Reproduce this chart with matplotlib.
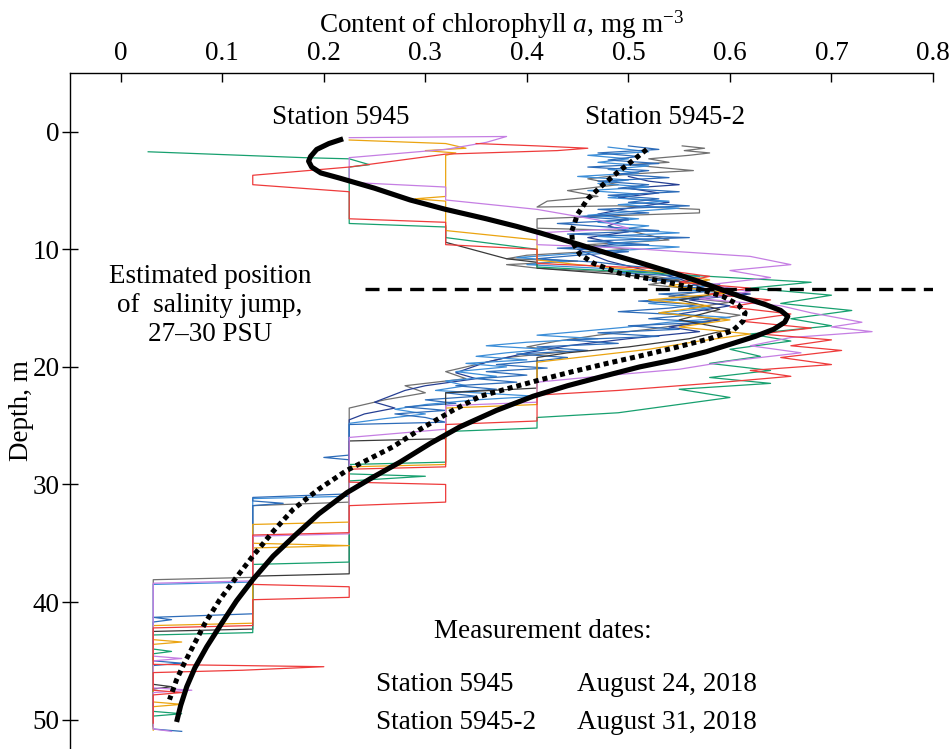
import matplotlib
matplotlib.use("Agg")
import matplotlib.pyplot as plt

plt.rcParams['font.family'] = ['Liberation Serif', 'DejaVu Serif']
plt.rcParams['mathtext.fontset'] = 'custom'
plt.rcParams['mathtext.rm'] = 'Liberation Serif'
plt.rcParams['mathtext.it'] = 'Liberation Serif:italic'

# ---------------- data (chlorophyll a, mg m^-3  vs depth, m) ----------------
x_ticks = [0, 0.1, 0.2, 0.3, 0.4, 0.5, 0.6, 0.7, 0.8]
x_tick_labels = ["0", "0.1", "0.2", "0.3", "0.4", "0.5", "0.6", "0.7", "0.8"]
depth_ticks = [0, 10, 20, 30, 40, 50]

# smoothed profile, Station 5945 (solid)
fit_5945_x = [0.219, 0.205, 0.193, 0.187, 0.185, 0.188, 0.197, 0.216, 0.25, 0.285, 0.32, 0.36, 0.39,
              0.413, 0.45, 0.48, 0.51, 0.544, 0.575, 0.61, 0.635, 0.65, 0.657, 0.654, 0.643, 0.625,
              0.603, 0.577, 0.545, 0.511, 0.475, 0.44, 0.406, 0.37, 0.334, 0.305, 0.275, 0.248,
              0.2227, 0.195, 0.172, 0.15, 0.130, 0.114, 0.098, 0.0847, 0.073, 0.065, 0.059, 0.055]
fit_5945_d = [0.6, 1.0, 1.5, 2.1, 2.5, 3.0, 3.5, 3.95, 4.8, 5.8, 6.6, 7.4, 8.05,
              8.6, 9.55, 10.35, 11.1, 12.0, 12.9, 14.0, 14.7, 15.2, 15.7, 16.2, 16.8, 17.4,
              18.0, 18.7, 19.4, 20.0, 20.8, 21.6, 22.5, 23.7, 25.1, 26.5, 28.1, 29.4,
              30.7, 32.5, 34.3, 36.1, 38.1, 39.9, 42.0, 43.8, 45.6, 47.2, 48.8, 50.2]

# smoothed profile, Station 5945-2 (dotted)
fit_59452_x = [0.518, 0.505, 0.49, 0.475, 0.46, 0.45, 0.444, 0.445, 0.452, 0.466, 0.49, 0.52, 0.544,
               0.57, 0.593, 0.608, 0.615, 0.613, 0.603, 0.58, 0.544, 0.51, 0.479, 0.445, 0.413, 0.383,
               0.354, 0.327, 0.295, 0.268, 0.2227, 0.195, 0.17, 0.15, 0.130, 0.113, 0.0975, 0.083,
               0.071, 0.062, 0.055, 0.048]
fit_59452_d = [1.5, 2.4, 3.4, 4.5, 5.7, 7.0, 8.5, 9.4, 10.4, 11.2, 12.0, 12.5, 12.9,
               13.4, 14.0, 14.7, 15.4, 16.1, 16.9, 17.6, 18.4, 19.1, 19.7, 20.4, 21.1, 21.8,
               22.5, 23.7, 25.3, 26.8, 28.8, 30.4, 32.1, 34.0, 36.1, 38.0, 39.8, 41.8,
               43.8, 45.3, 46.6, 48.3]

salinity_jump_depth = 13.4
salinity_jump_x = [0.241, 0.80]

# raw profiles, Station 5945  (value, depth)
red_5945 = [(0.35, 1.0), (0.41, 1.2), (0.46, 1.4), (0.43, 1.6), (0.32, 1.9), (0.225, 3.0), (0.13, 3.7),
            (0.13, 4.5), (0.225, 5.1), (0.225, 7.4), (0.32, 7.7), (0.32, 9.6), (0.41, 10.0), (0.41, 11.2),
            (0.52, 11.6), (0.58, 12.3), (0.55, 12.8), (0.62, 13.3), (0.58, 13.8), (0.64, 14.3), (0.60, 14.9),
            (0.66, 15.5), (0.61, 16.1), (0.68, 16.7), (0.63, 17.2), (0.70, 17.7), (0.66, 18.2), (0.71, 18.6),
            (0.65, 19.2), (0.70, 19.8), (0.62, 20.3), (0.66, 20.8), (0.58, 21.4), (0.49, 22.0), (0.41, 22.4),
            (0.41, 24.6), (0.32, 24.9), (0.32, 28.5), (0.225, 28.7), (0.225, 29.8), (0.32, 30.0), (0.32, 31.5),
            (0.225, 31.8), (0.225, 34.1), (0.13, 34.3), (0.13, 38.5), (0.225, 38.7), (0.225, 39.6), (0.13, 39.8),
            (0.13, 42.0), (0.032, 42.2), (0.032, 45.3), (0.20, 45.5), (0.12, 45.8), (0.032, 46.0), (0.032, 47.5),
            (0.06, 47.7), (0.032, 47.9), (0.032, 50.3)]
violet_5945 = [(0.225, 0.5), (0.38, 0.4), (0.36, 0.9), (0.32, 1.5), (0.225, 2.2), (0.225, 4.3), (0.32, 4.7),
               (0.32, 5.8), (0.41, 6.6), (0.47, 7.5), (0.50, 8.2), (0.41, 8.6), (0.41, 9.6), (0.50, 9.9),
               (0.55, 10.2), (0.62, 10.6), (0.66, 11.3), (0.60, 11.8), (0.64, 12.4), (0.58, 13.0), (0.62, 13.6),
               (0.57, 14.2), (0.65, 14.8), (0.68, 15.4), (0.73, 16.2), (0.70, 16.6), (0.74, 17.0), (0.66, 17.5),
               (0.62, 18.2), (0.67, 18.8), (0.60, 19.5), (0.55, 20.2), (0.47, 20.8), (0.41, 21.3), (0.41, 23.0),
               (0.32, 23.3), (0.32, 25.3), (0.225, 26.0), (0.225, 34.2), (0.13, 34.4), (0.13, 38.2), (0.032, 38.4),
               (0.032, 44.6), (0.06, 44.8), (0.032, 45.0), (0.032, 47.3), (0.07, 47.5), (0.032, 47.7),
               (0.032, 50.8), (0.05, 51.0)]
orange_5945 = [(0.225, 0.7), (0.32, 1.0), (0.34, 1.4), (0.30, 1.6), (0.33, 1.8), (0.32, 2.0), (0.32, 5.5),
               (0.29, 5.7), (0.32, 5.9), (0.32, 8.4), (0.41, 9.2), (0.41, 10.9), (0.45, 11.3), (0.53, 11.9),
               (0.58, 12.6), (0.54, 13.1), (0.60, 13.7), (0.52, 14.3), (0.58, 14.8), (0.53, 15.4), (0.60, 16.0),
               (0.55, 16.6), (0.62, 17.2), (0.57, 17.8), (0.52, 18.5), (0.44, 19.3), (0.41, 19.6), (0.41, 23.2),
               (0.32, 23.5), (0.32, 28.3), (0.225, 28.5), (0.225, 33.2), (0.13, 33.4), (0.13, 35.0), (0.225, 35.2),
               (0.13, 35.4), (0.13, 41.8), (0.032, 42.0), (0.032, 43.2), (0.06, 43.4), (0.032, 43.6),
               (0.032, 48.5), (0.06, 48.7), (0.032, 48.9), (0.032, 50.9)]
green_5945 = [(0.027, 1.7), (0.18, 2.2), (0.225, 2.3), (0.245, 2.8), (0.225, 3.0), (0.225, 7.8), (0.32, 8.1),
              (0.32, 9.0), (0.41, 10.0), (0.41, 11.5), (0.50, 11.9), (0.58, 12.3), (0.68, 12.8), (0.62, 13.3),
              (0.70, 13.9), (0.65, 14.6), (0.72, 15.2), (0.66, 15.9), (0.70, 16.5), (0.62, 17.2), (0.66, 17.8),
              (0.60, 18.5), (0.63, 19.1), (0.58, 19.7), (0.64, 20.3), (0.58, 20.9), (0.64, 21.4), (0.55, 21.9),
              (0.60, 22.6), (0.49, 23.9), (0.41, 24.3), (0.41, 25.2), (0.32, 25.5), (0.32, 28.1), (0.225, 28.3),
              (0.225, 29.1), (0.30, 29.3), (0.225, 29.7), (0.225, 36.6), (0.13, 36.8), (0.13, 42.6),
              (0.032, 42.8), (0.032, 44.0), (0.05, 44.2), (0.032, 44.4), (0.032, 49.3), (0.06, 49.5),
              (0.032, 49.7), (0.032, 50.5)]
black_5945 = [(0.32, 8.0), (0.32, 9.4), (0.38, 10.8), (0.41, 11.1), (0.41, 11.6), (0.50, 12.2), (0.56, 12.8),
              (0.60, 13.6), (0.55, 14.3), (0.59, 15.1), (0.55, 16.0), (0.60, 16.8), (0.56, 17.6), (0.50, 18.3),
              (0.44, 18.8), (0.41, 19.2), (0.41, 21.8), (0.32, 22.2), (0.32, 26.1), (0.225, 26.3),
              (0.225, 37.6), (0.13, 37.8), (0.13, 42.3), (0.032, 42.5), (0.032, 47.0), (0.05, 47.2),
              (0.032, 47.4), (0.032, 50.6)]

# raw profiles, Station 5945-2
blue_59452 = [(0.50, 1.2), (0.53, 1.5), (0.47, 1.8), (0.51, 2.1), (0.48, 2.4), (0.53, 2.7), (0.46, 3.0),
              (0.52, 3.3), (0.49, 3.6), (0.54, 3.9), (0.47, 4.2), (0.52, 4.5), (0.49, 4.8), (0.55, 5.1),
              (0.48, 5.4), (0.53, 5.7), (0.50, 6.0), (0.56, 6.3), (0.47, 6.6), (0.52, 6.9), (0.45, 7.2),
              (0.50, 7.5), (0.43, 7.8), (0.48, 8.1), (0.53, 8.4), (0.44, 8.7), (0.56, 9.0), (0.46, 9.3),
              (0.52, 9.6), (0.43, 9.9), (0.50, 10.2), (0.45, 10.5), (0.41, 10.8), (0.47, 11.1), (0.50, 11.4),
              (0.54, 11.7), (0.49, 12.0), (0.56, 12.3), (0.52, 12.6), (0.58, 12.9), (0.55, 13.2), (0.60, 13.5),
              (0.53, 13.8), (0.58, 14.1), (0.51, 14.4), (0.57, 14.7), (0.54, 15.0), (0.49, 15.3), (0.56, 15.6),
              (0.52, 15.9), (0.58, 16.2), (0.50, 16.5), (0.55, 16.8), (0.47, 17.1), (0.53, 17.4), (0.44, 17.7),
              (0.49, 18.0), (0.41, 18.3), (0.46, 18.6), (0.39, 18.9), (0.44, 19.2), (0.41, 19.5), (0.37, 19.8),
              (0.42, 20.1), (0.36, 20.4), (0.40, 20.7), (0.35, 21.0), (0.39, 21.3), (0.33, 21.6), (0.37, 21.9),
              (0.32, 22.2), (0.35, 22.5), (0.30, 22.8), (0.33, 23.1), (0.28, 23.4), (0.32, 23.7), (0.27, 24.0),
              (0.30, 24.3), (0.32, 24.7), (0.225, 24.9), (0.225, 27.5), (0.20, 27.7), (0.225, 27.9),
              (0.225, 30.8), (0.13, 31.1), (0.13, 31.4), (0.16, 31.6), (0.13, 31.8), (0.13, 41.0),
              (0.032, 41.3), (0.05, 41.5), (0.032, 41.7), (0.032, 45.0), (0.06, 45.2), (0.032, 45.4),
              (0.032, 50.8), (0.06, 51.0)]
lightblue_59452 = [(0.48, 1.3), (0.52, 1.7), (0.46, 2.0), (0.50, 2.3), (0.47, 2.6), (0.52, 2.9), (0.48, 3.2),
                   (0.51, 3.5), (0.45, 3.8), (0.50, 4.1), (0.47, 4.4), (0.52, 4.7), (0.46, 5.0), (0.51, 5.3),
                   (0.48, 5.6), (0.54, 5.9), (0.49, 6.2), (0.55, 6.5), (0.50, 6.8), (0.46, 7.1), (0.51, 7.4),
                   (0.47, 7.7), (0.52, 8.0), (0.49, 8.3), (0.55, 8.6), (0.47, 8.9), (0.53, 9.2), (0.48, 9.5),
                   (0.55, 9.8), (0.49, 10.1), (0.44, 10.4), (0.39, 10.7), (0.44, 11.0), (0.40, 11.3), (0.47, 11.6),
                   (0.52, 11.9), (0.57, 12.3), (0.53, 12.6), (0.59, 13.0), (0.55, 13.4), (0.61, 13.8), (0.56, 14.2),
                   (0.52, 14.6), (0.58, 15.0), (0.53, 15.4), (0.60, 15.8), (0.54, 16.2), (0.50, 16.6), (0.45, 17.0),
                   (0.41, 17.3), (0.47, 17.6), (0.40, 17.9), (0.36, 18.2), (0.42, 18.5), (0.38, 18.8), (0.35, 19.1),
                   (0.40, 19.4), (0.34, 19.7), (0.38, 20.0), (0.33, 20.4), (0.37, 20.8), (0.32, 21.2), (0.34, 21.6),
                   (0.31, 22.0), (0.41, 22.5), (0.35, 22.8), (0.30, 23.2), (0.27, 23.6), (0.30, 24.0), (0.26, 24.4),
                   (0.225, 24.8), (0.225, 31.0), (0.13, 31.2), (0.13, 38.3), (0.032, 38.5), (0.032, 50.5)]
navy_59452 = [(0.50, 3.8), (0.52, 4.2), (0.55, 4.5), (0.50, 4.8), (0.53, 5.2), (0.49, 5.6), (0.54, 6.0),
              (0.50, 6.5), (0.47, 7.0), (0.50, 7.4), (0.48, 8.0), (0.50, 8.5), (0.46, 9.0), (0.49, 9.5),
              (0.45, 10.0), (0.48, 11.0), (0.55, 12.5), (0.58, 13.5), (0.62, 13.8), (0.56, 14.3), (0.60, 14.8),
              (0.55, 15.5), (0.59, 16.0), (0.54, 16.6), (0.57, 17.0), (0.50, 17.6), (0.44, 18.2), (0.40, 18.8),
              (0.36, 19.6), (0.33, 20.5), (0.35, 21.0), (0.30, 21.6), (0.28, 22.0), (0.25, 23.0), (0.27, 23.5),
              (0.24, 24.0), (0.225, 24.5), (0.225, 29.0)]
gray_59452 = [(0.553, 1.2), (0.575, 1.4), (0.555, 1.6), (0.58, 1.8), (0.56, 2.0), (0.52, 2.3), (0.54, 2.6),
              (0.50, 2.8), (0.564, 3.3), (0.50, 3.6), (0.46, 4.0), (0.49, 4.5), (0.44, 5.0), (0.47, 5.5),
              (0.42, 5.9), (0.41, 6.4), (0.49, 6.3), (0.57, 6.6), (0.57, 6.9), (0.50, 7.1), (0.41, 7.4),
              (0.41, 8.2), (0.50, 8.4), (0.54, 9.2), (0.46, 9.6), (0.50, 10.0), (0.40, 10.5), (0.38, 10.8),
              (0.45, 11.0), (0.38, 11.3), (0.41, 11.6), (0.50, 12.0), (0.55, 12.6), (0.52, 13.0), (0.58, 13.5),
              (0.54, 14.0), (0.60, 14.5), (0.56, 15.0), (0.61, 15.6), (0.57, 16.2), (0.52, 16.8), (0.47, 17.3),
              (0.43, 17.8), (0.40, 18.3), (0.44, 18.7), (0.38, 19.2), (0.35, 19.8), (0.32, 20.4), (0.34, 21.0),
              (0.28, 21.6), (0.30, 22.2), (0.26, 22.8), (0.225, 23.5), (0.225, 31.5), (0.13, 31.8),
              (0.13, 37.9), (0.032, 38.1), (0.032, 50.0)]

profiles = [
    (gray_59452, "#707070"),
    (navy_59452, "#263f93"),
    (lightblue_59452, "#3c8ed8"),
    (blue_59452, "#2d6cb9"),
    (black_5945, "#3a3a3a"),
    (green_5945, "#17a06f"),
    (orange_5945, "#eba411"),
    (violet_5945, "#c57ee3"),
    (red_5945, "#ee3b3b"),
]

# ---------------- figure ----------------
fig = plt.figure(figsize=(9.49, 7.49), dpi=100)
ax = fig.add_axes([70 / 949, 0.0, (933 - 70) / 949, 1 - 73 / 749])

for prof, col in profiles:
    xs = [p[0] for p in prof]
    ds = [p[1] for p in prof]
    ax.plot(xs, ds, color=col, lw=0.9, zorder=2)

ax.plot(fit_5945_x, fit_5945_d, color="black", lw=3.7, solid_capstyle="butt",
        solid_joinstyle="round", zorder=5)
ax.plot(fit_59452_x, fit_59452_d, color="black", lw=3.6, linestyle=(0, (1.0, 0.8)),
        dash_capstyle="butt", zorder=5)
ax.plot(salinity_jump_x, [salinity_jump_depth, salinity_jump_depth], color="black", lw=2.4,
        linestyle=(0, (4.2, 2.5)), dash_capstyle="butt", zorder=5)

ax.set_xlim(-0.05, 0.8)
ax.set_ylim(52.5, -5)

ax.xaxis.tick_top()
ax.xaxis.set_label_position("top")
ax.set_xticks(x_ticks)
ax.set_xticklabels(x_tick_labels)
ax.set_yticks(depth_ticks)
ax.tick_params(axis="x", direction="in", length=6.5, width=1.0, labelsize=19.5, pad=5, top=True, bottom=False)
ax.tick_params(axis="y", direction="inout", length=12, width=1.0, labelsize=19.5, pad=1.5)
for s in ("right", "bottom"):
    ax.spines[s].set_visible(False)
for s in ("left", "top"):
    ax.spines[s].set_linewidth(1.0)

ax.set_xlabel(r"Content of chlorophyll $a$, mg m$^{-3}$", fontsize=19.5, labelpad=6)
ax.set_ylabel("Depth, m", fontsize=19.5, labelpad=-1)

fs = 19.5
ax.text(0.2167, -1.25, "Station 5945", fontsize=fs, ha="center", va="center")
ax.text(0.536, -1.25, "Station 5945-2", fontsize=fs, ha="center", va="center")
ax.text(0.0877, 14.8, "Estimated position\nof  salinity jump,\n27\u201330 PSU", fontsize=fs,
        ha="center", va="center", linespacing=1.2)
ax.text(0.416, 42.5, "Measurement dates:", fontsize=fs, ha="center", va="center")
ax.text(0.2512, 47.0, "Station 5945", fontsize=fs, ha="left", va="center")
ax.text(0.4492, 47.0, "August 24, 2018", fontsize=fs, ha="left", va="center")
ax.text(0.2512, 50.25, "Station 5945-2", fontsize=fs, ha="left", va="center")
ax.text(0.4492, 50.25, "August 31, 2018", fontsize=fs, ha="left", va="center")

fig.savefig("out.png", dpi=100)
